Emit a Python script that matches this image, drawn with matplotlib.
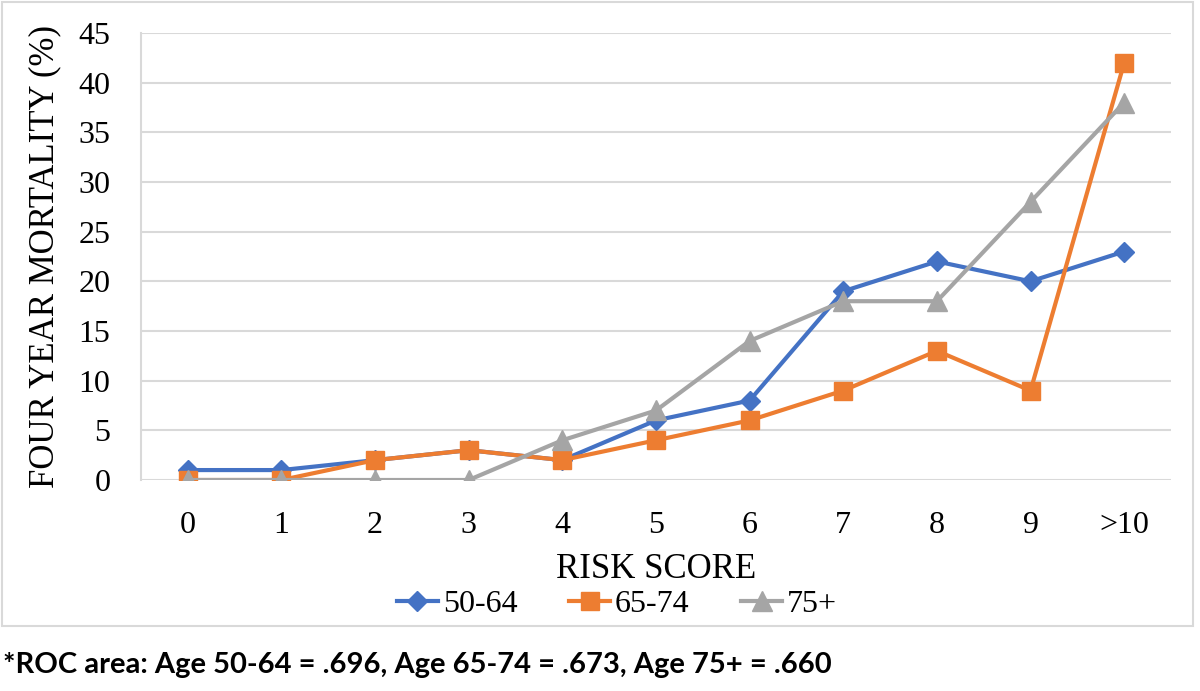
import numpy as np
import matplotlib.pyplot as plt
from matplotlib.patches import Rectangle

# risk score categories and mortality (%) per age group
risk_scores = ['0', '1', '2', '3', '4', '5', '6', '7', '8', '9', '>10']
age_50_64 = [1, 1, 2, 3, 2, 6, 8, 19, 22, 20, 23]
age_65_74 = [0, 0, 2, 3, 2, 4, 6, 9, 13, 9, 42]
age_75_up = [0, 0, 0, 0, 4, 7, 14, 18, 18, 28, 38]
y_ticks = [0, 5, 10, 15, 20, 25, 30, 35, 40, 45]
footnote = '*ROC area: Age 50-64 = .696, Age 65-74 = .673, Age 75+ = .660'

serif = ['Liberation Serif', 'DejaVu Serif']

fig = plt.figure(figsize=(12, 6.91), dpi=100)
ax = fig.add_axes([141/1200, 1 - 480/691, (1171 - 141)/1200, (480 - 33)/691])

x = np.arange(len(risk_scores))
ax.plot(x, age_50_64, '-D', color='#4472C4', lw=3, ms=10, label='50-64', zorder=3)
ax.plot(x, age_65_74, '-s', color='#ED7D31', lw=3, ms=13, label='65-74', zorder=3)
ax.plot(x, age_75_up, '-^', color='#A5A5A5', lw=3, ms=14, label='75+', zorder=3)

ax.set_xlim(-0.5, len(risk_scores) - 0.5)
ax.set_ylim(0, 45)
ax.set_yticks(y_ticks)
ax.set_xticks(x)
ax.set_xticklabels(risk_scores)
ax.grid(axis='y', color='#D9D9D9', lw=1.5)
ax.set_axisbelow(True)
for s in ['top', 'right', 'bottom']:
    ax.spines[s].set_visible(False)
ax.spines['left'].set_color('#D9D9D9')
ax.spines['left'].set_linewidth(1.5)
ax.tick_params(length=0, labelsize=23)
ax.tick_params(axis='y', pad=22)
ax.tick_params(axis='x', pad=22)
for lab in ax.get_xticklabels() + ax.get_yticklabels():
    lab.set_family(serif)

ax.set_xlabel('RISK SCORE', family=serif, fontsize=25, labelpad=10)
ax.set_ylabel('FOUR YEAR MORTALITY (%)', family=serif, fontsize=25, labelpad=12)

leg = fig.legend(loc='center', bbox_to_anchor=(617/1200, 1 - 604/691), ncol=3,
                 frameon=False, prop={'family': serif, 'size': 23},
                 handlelength=1.3, columnspacing=1.6, handletextpad=0.15)

# chart border
fig.patches.append(Rectangle((2/1200, 1 - 626/691), 1191/1200, 624/691,
                             transform=fig.transFigure, fill=False,
                             edgecolor='#D9D9D9', lw=1.5))

fig.text(3/1200, 1 - 665/691, footnote, fontsize=21, fontweight='bold',
         family=['Lato', 'Liberation Sans', 'DejaVu Sans'],
         va='center', ha='left')

fig.savefig('out.png', dpi=100)
